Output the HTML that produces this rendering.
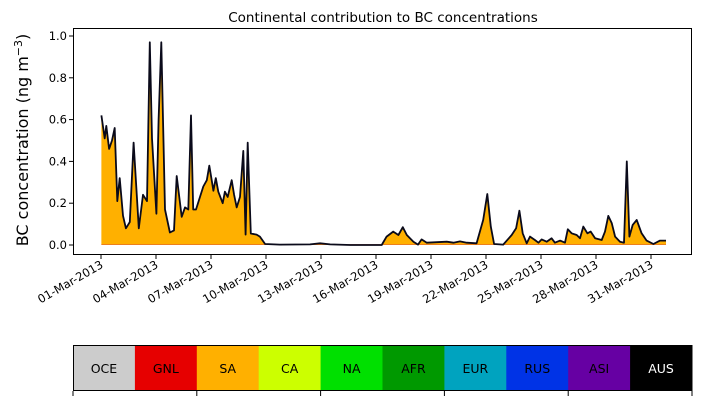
<!DOCTYPE html>
<html><head><meta charset="utf-8"><style>
body{margin:0;background:#fff;}
svg{display:block;font-family:"DejaVu Sans","Liberation Sans",sans-serif;}
</style></head><body>
<svg id="c" width="703" height="402" viewBox="0 0 703 402"></svg>
<script>
const days=[0.02,0.2,0.29,0.44,0.6,0.75,0.89,1.02,1.2,1.36,1.57,1.78,2.06,2.29,2.51,2.66,2.78,3.02,3.14,3.29,3.49,3.76,3.98,4.13,4.4,4.58,4.76,4.91,5.03,5.18,5.4,5.58,5.77,5.91,6.04,6.13,6.26,6.4,6.64,6.76,6.91,7.13,7.26,7.4,7.58,7.76,7.89,8.0,8.17,8.49,8.67,8.95,9.76,11.4,11.95,12.5,13.6,14.67,15.31,15.58,15.94,16.22,16.46,16.68,17.04,17.29,17.49,17.77,18.86,19.22,19.58,19.95,20.49,20.85,21.07,21.26,21.44,21.94,22.4,22.64,22.82,23.0,23.22,23.4,23.67,23.86,24.04,24.31,24.58,24.76,25.04,25.31,25.46,25.67,25.95,26.13,26.31,26.53,26.71,26.95,27.31,27.49,27.67,27.86,28.04,28.31,28.53,28.68,28.82,29.0,29.22,29.49,29.76,30.13,30.49,30.82];
const totals=[0.62,0.51,0.57,0.46,0.5,0.56,0.21,0.32,0.14,0.08,0.11,0.49,0.08,0.24,0.21,0.97,0.51,0.15,0.6,0.97,0.17,0.06,0.07,0.33,0.135,0.18,0.17,0.62,0.17,0.17,0.23,0.28,0.31,0.38,0.31,0.26,0.32,0.255,0.2,0.255,0.23,0.31,0.24,0.18,0.23,0.45,0.05,0.49,0.055,0.05,0.04,0.005,0.002,0.003,0.008,0.003,0,0,0,0.04,0.064,0.048,0.085,0.048,0.016,0.002,0.027,0.011,0.016,0.011,0.017,0.011,0.008,0.12,0.244,0.088,0.005,0.002,0.048,0.08,0.164,0.056,0.008,0.04,0.024,0.011,0.027,0.016,0.032,0.011,0.021,0.011,0.075,0.056,0.048,0.032,0.088,0.056,0.064,0.032,0.024,0.064,0.139,0.104,0.04,0.016,0.011,0.4,0.04,0.096,0.12,0.056,0.021,0.005,0.021,0.021];
const yTicks=[0.0,0.2,0.4,0.6,0.8,1.0];
const xTickDays=[0,3,6,9,12,15,18,21,24,27,30];
const xTickLabels=["01-Mar-2013","04-Mar-2013","07-Mar-2013","10-Mar-2013","13-Mar-2013","16-Mar-2013","19-Mar-2013","22-Mar-2013","25-Mar-2013","28-Mar-2013","31-Mar-2013"];
const regions=["OCE","GNL","SA","CA","NA","AFR","EUR","RUS","ASI","AUS"];
const regionColors=["#cccccc","#e60000","#ffb000","#ccff00","#00e000","#009900","#00a3bf","#0033e6","#6600a3","#000000"];

const NS="http://www.w3.org/2000/svg";
const svg=document.getElementById('c');
const L=73,R=692,T=28,B=255;
const X=d=>101+d*18.333;
const Y=v=>245-v*209;
function mk(tag,at,parent){const e=document.createElementNS(NS,tag);for(const k in at)e.setAttribute(k,at[k]);(parent||svg).appendChild(e);return e;}

const title=mk('text',{x:383,y:22,'text-anchor':'middle','font-size':13.5,fill:'#000'});
title.textContent='Continental contribution to BC concentrations';



let pts=days.map((d,i)=>X(d).toFixed(1)+','+Y(totals[i]).toFixed(1));
const area=mk('polygon',{points:X(days[0])+','+Y(0)+' '+pts.join(' ')+' '+X(days[days.length-1])+','+Y(0),fill:'#ffb000'});


const gnl=mk('line',{x1:X(days[0]),y1:Y(0)-0.5,x2:X(days[days.length-1]),y2:Y(0)-0.5,stroke:'#e06030','stroke-width':1,opacity:0.6});


const line=mk('polyline',{points:pts.join(' '),fill:'none',stroke:'#0a0a1a','stroke-width':1.8,'stroke-linejoin':'round'});



const frame=mk('rect',{x:L+0.5,y:T+0.5,width:R-L-1,height:B-T-1,fill:'none',stroke:'#000','stroke-width':1});



yTicks.forEach(v=>{
  const y=Y(v);
  const t=mk('line',{x1:L-4,y1:y,x2:L,y2:y,stroke:'#000'});
  
  
  const lb=mk('text',{x:L-6,y:y+4,'text-anchor':'end','font-size':11.5});
  lb.textContent=v.toFixed(1);
  
  
});
xTickDays.forEach((d,i)=>{
  const x=X(d);
  const t=mk('line',{x1:x,y1:B,x2:x,y2:B+4,stroke:'#000'});
  
  
  const lb=mk('text',{x:x+3,y:B+12,'text-anchor':'end','font-size':11.5,transform:'rotate(-30 '+(x+3)+' '+(B+12)+')'});
  lb.textContent=xTickLabels[i];
  
  
});
const yl=mk('text',{x:28,y:140,'text-anchor':'middle','font-size':16,transform:'rotate(-90 28 140)'});
yl.innerHTML='BC concentration (ng m<tspan dy="-6" font-size="11">−3</tspan><tspan dy="6">)</tspan>';



const cbL=73,cbR=692,cbT=345,cbB=391,w=(cbR-cbL)/regions.length;
regions.forEach((r,i)=>{
  const rc=mk('rect',{x:cbL+i*w,y:cbT,width:w+0.5,height:cbB-cbT,fill:regionColors[i]});
  
  
  const tx=mk('text',{x:cbL+i*w+w/2,y:(cbT+cbB)/2+5,'text-anchor':'middle','font-size':12.5,fill:r==='AUS'?'#fff':'#000'});
  tx.textContent=r;
  
  
});
const cbf=mk('rect',{x:cbL+0.5,y:cbT+0.5,width:cbR-cbL-1,height:cbB-cbT-1,fill:'none',stroke:'#000'});


for(let i=0;i<=regions.length;i+=2){
  const x=cbL+i*w;
  const t=mk('line',{x1:x,y1:cbB,x2:x,y2:cbB+5,stroke:'#000'});
  
  
}
</script>
</body></html>
